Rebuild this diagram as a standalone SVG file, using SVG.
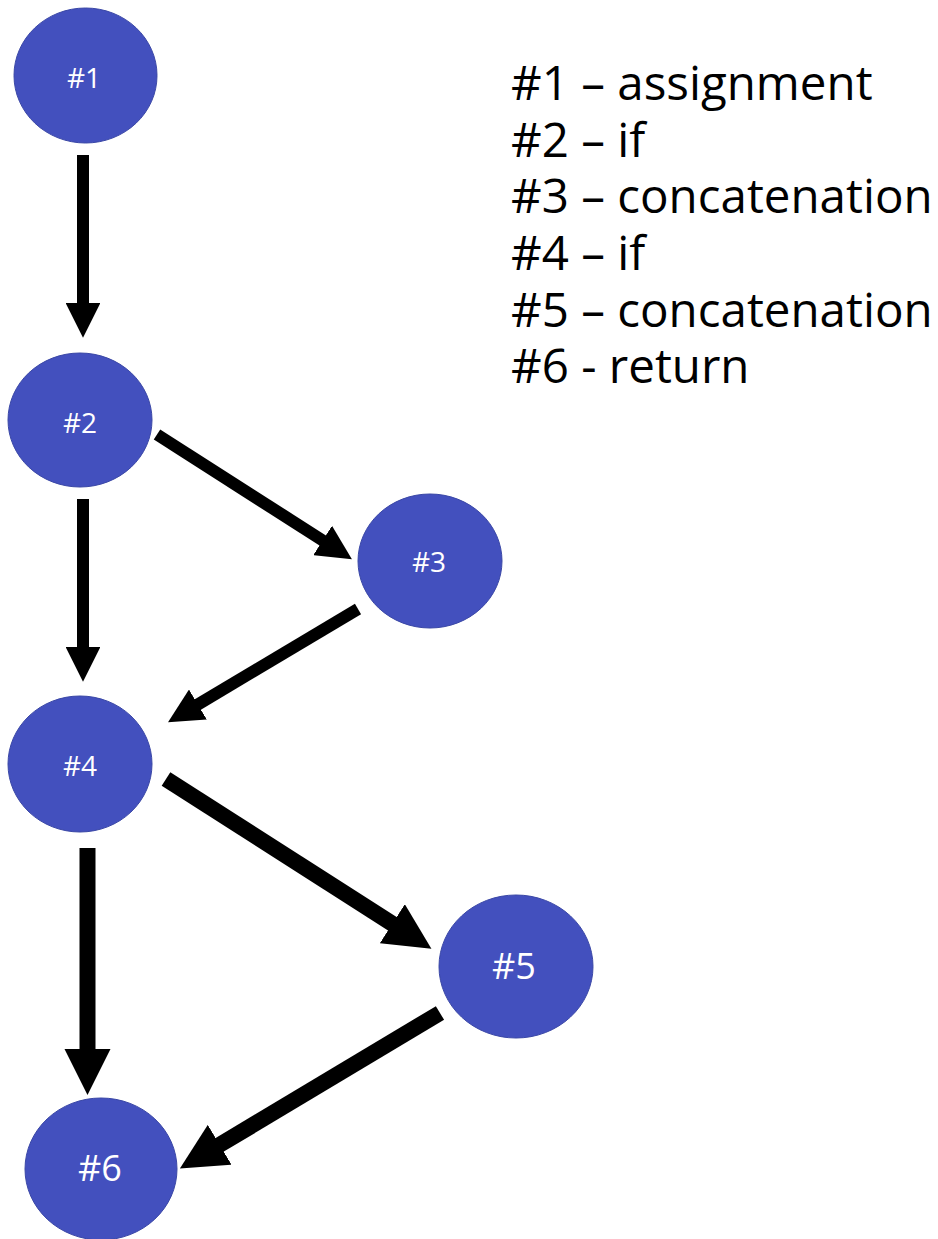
<svg xmlns="http://www.w3.org/2000/svg" width="938" height="1239" viewBox="0 0 938 1239">
  <style>
    .node { fill: #4350BE; stroke: #3A47A6; stroke-width: 1; }
    .lbl { font-family: "Open Sans", "Liberation Sans", sans-serif; fill: #FFFFFF; text-anchor: middle; }
    .sm { font-size: 28px; }
    .lg { font-size: 36px; }
    .edge { stroke: #000000; fill: none; stroke-linecap: butt; marker-end: url(#head); }
    .thin { stroke-width: 12; }
    .thick { stroke-width: 16; }
    .legend { font-family: "Open Sans", "Liberation Sans", sans-serif; font-size: 47.5px; fill: #000000; }
  </style>
  <defs>
    <marker id="head" viewBox="0 0 10 10" refX="0.3" refY="5" markerWidth="2.9" markerHeight="2.9" markerUnits="strokeWidth" orient="auto">
      <path d="M0,0 L10,5 L0,10 Z" fill="#000000"/>
    </marker>
  </defs>
  <rect x="0" y="0" width="938" height="1239" fill="#FFFFFF"/>

  <g id="connectors">
    <line class="edge thin" x1="83" y1="155" x2="83" y2="304"/>
    <line class="edge thin" x1="83" y1="499" x2="83" y2="648"/>
    <line class="edge thin" x1="157" y1="434.5" x2="323.5" y2="541"/>
    <line class="edge thin" x1="358" y1="609" x2="197" y2="705"/>
    <line class="edge thick" x1="166" y1="779" x2="393.5" y2="924.5"/>
    <line class="edge thick" x1="87.5" y1="848" x2="87.5" y2="1050"/>
    <line class="edge thick" x1="440" y1="1013" x2="218.5" y2="1145.5"/>
  </g>

  <g id="node1">
    <ellipse class="node" cx="85.5" cy="75.5" rx="71.5" ry="67.5"/>
    <text class="lbl sm" x="84" y="88">#1</text>
  </g>
  <g id="node2">
    <ellipse class="node" cx="80" cy="420" rx="72" ry="67"/>
    <text class="lbl sm" x="80" y="433">#2</text>
  </g>
  <g id="node3">
    <ellipse class="node" cx="430" cy="561" rx="72" ry="67"/>
    <text class="lbl sm" x="429" y="572">#3</text>
  </g>
  <g id="node4">
    <ellipse class="node" cx="80" cy="764" rx="72" ry="68"/>
    <text class="lbl sm" x="80" y="776">#4</text>
  </g>
  <g id="node5">
    <ellipse class="node" cx="516" cy="966.5" rx="77" ry="71.5"/>
    <text class="lbl lg" x="514" y="979">#5</text>
  </g>
  <g id="node6">
    <ellipse class="node" cx="101" cy="1169" rx="76" ry="71"/>
    <text class="lbl lg" x="100" y="1181">#6</text>
  </g>

  <g id="legend">
    <text class="legend" x="511" y="100"><tspan x="511" y="100">#1 – assignment</tspan><tspan x="511" y="157">#2 – if</tspan><tspan x="511" y="213">#3 – concatenation</tspan><tspan x="511" y="270">#4 – if</tspan><tspan x="511" y="327">#5 – concatenation</tspan><tspan x="511" y="383">#6 - return</tspan></text>
  </g>
</svg>
